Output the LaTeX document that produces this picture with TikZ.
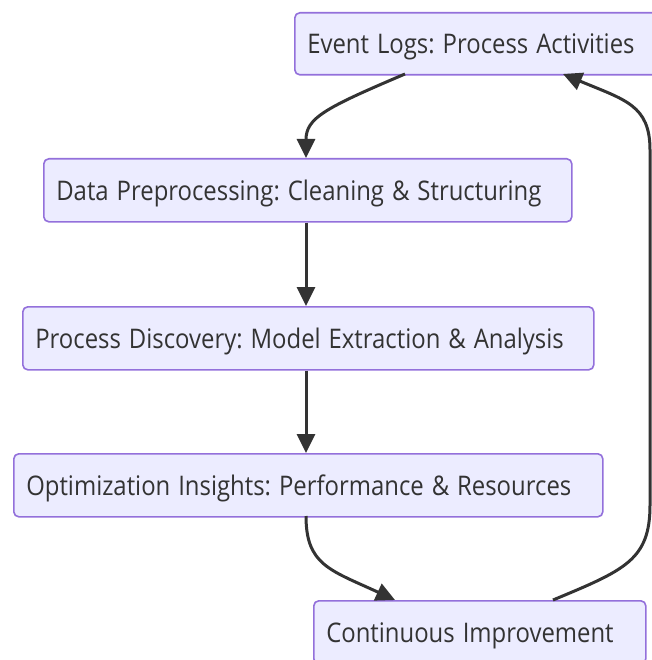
\documentclass[tikz,border=0pt]{standalone}
\usepackage{fontspec}
\usepackage{graphicx}
\setmainfont{Open Sans}
\usetikzlibrary{arrows.meta}
\frenchspacing
\definecolor{boxfill}{HTML}{ECECFF}
\definecolor{boxline}{HTML}{9370DB}
\definecolor{ink}{HTML}{333333}
\newcommand\narrowtext[1]{\scalebox{0.885}[1]{#1}}
\tikzset{
  flowbox/.style={draw=boxline, fill=boxfill, line width=1.6pt, rounded corners=5pt,
    anchor=north west, inner xsep=12.5pt, inner ysep=0pt, align=left,
    text=ink, font=\fontsize{27}{30}\selectfont, text height=19.5pt, text depth=0pt},
  link/.style={draw=ink, line width=3pt, -{Triangle[length=19pt,width=18pt]}},
}
\begin{document}
\begin{tikzpicture}[x=1pt,y=1pt]
\useasboundingbox (0,0) rectangle (651,-660);
\node[flowbox, text width=340pt, minimum height=62pt] (ev) at (294,-12) {\narrowtext{Event Logs: Process Activities}};
\node[flowbox, text width=503pt, minimum height=63pt] (dp) at (43,-158) {\narrowtext{Data Preprocessing: Cleaning \& Structuring}};
\node[flowbox, text width=546pt, minimum height=63pt] (pd) at (22,-306) {\narrowtext{Process Discovery: Model Extraction \& Analysis}};
\node[flowbox, text width=564pt, minimum height=63pt] (oi) at (13,-453) {\narrowtext{Optimization Insights: Performance \& Resources}};
\node[flowbox, text width=307pt, minimum height=63pt] (ci) at (313,-600) {\narrowtext{Continuous Improvement}};
\coordinate (evS) at (405,-74);
\coordinate (dpN) at (306,-158);
\coordinate (oiS) at (306,-516);
\coordinate (ciN) at (395,-600);
\coordinate (ciNE) at (553,-600);
\coordinate (evSE) at (563,-74);
\draw[link] (evS) .. controls (325,-108) and (306,-118) .. (dpN);
\draw[link] (dp.south -| 306,0) -- (pd.north -| 306,0);
\draw[link] (pd.south -| 306,0) -- (oi.north -| 306,0);
\draw[link] (oiS) .. controls (306,-565) and (330,-570) .. (ciN);
\draw[link] (ciNE) .. controls (625,-570) and (650,-560) .. (650,-505) -- (650,-150) .. controls (650,-105) and (625,-100) .. (evSE);
\end{tikzpicture}
\end{document}
